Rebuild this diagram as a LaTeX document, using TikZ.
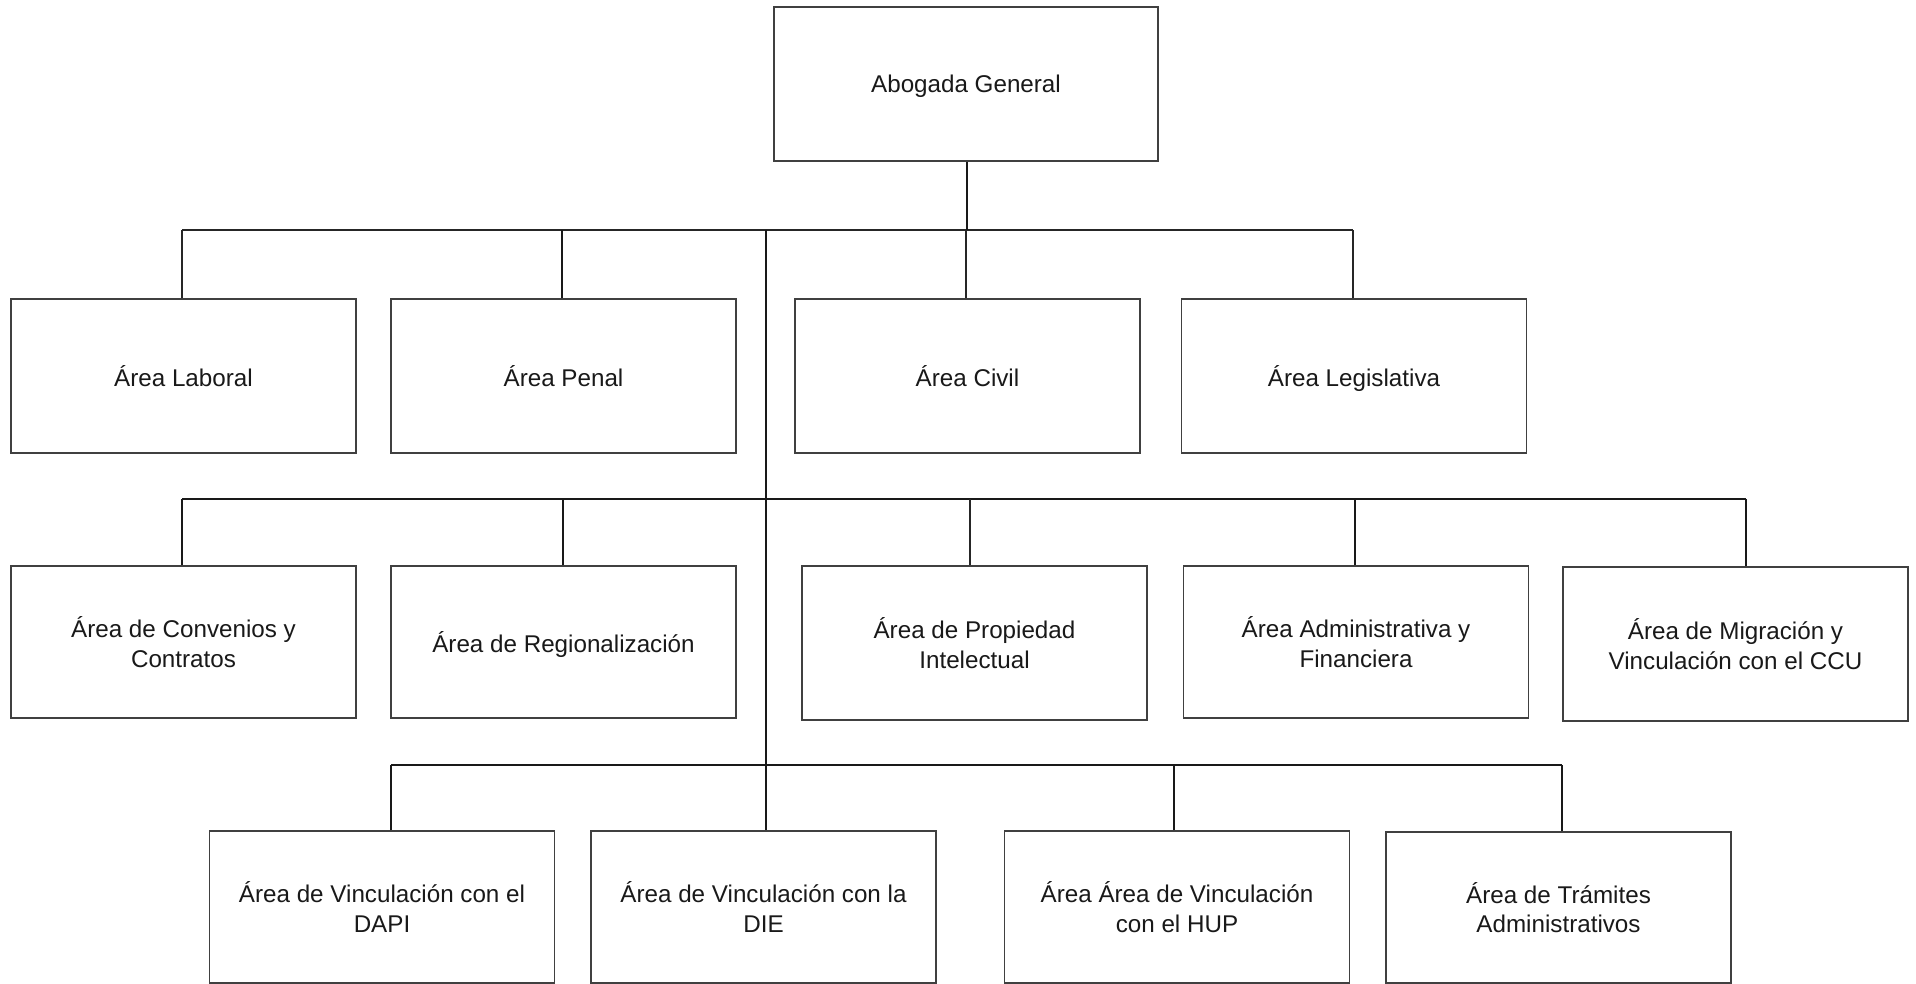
\documentclass[tikz,border=0pt]{standalone}
\usepackage{fontspec}
\setmainfont{Liberation Sans}
\begin{document}
\begin{tikzpicture}[x=1pt,y=-1pt,
  unit/.style={draw=boxgray,line width=1.4pt,fill=white,minimum width=345pt,minimum height=153pt,
    align=center,font=\fontsize{24.2}{29.3}\selectfont,text=black!90,inner sep=0pt},
  oneline/.style={text depth=0pt},
  thinlink/.style={line width=1.4pt,draw=black!85},
  link/.style={line width=2pt,draw=black!90},
  buslink/.style={line width=2.8pt,draw=black!90}]
\definecolor{boxgray}{HTML}{404040}
\useasboundingbox (0,0) rectangle (1916,984);

% director
\node[unit,oneline,minimum width=384pt,minimum height=154pt] (ag) at (966,84) {Abogada General};

% first row
\node[unit,oneline,minimum height=154pt] (lab) at (183.5,376) {Área Laboral};
\node[unit,oneline,minimum height=154pt] (pen) at (563.5,376) {Área Penal};
\node[unit,oneline,minimum height=154pt] (civ) at (967.5,376) {Área Civil};
\node[unit,oneline,minimum height=154pt] (leg) at (1354,376) {Área Legislativa};

% second row
\node[unit,minimum height=152pt] (con) at (183.5,642) {Área de Convenios y\\Contratos};
\node[unit,oneline,minimum height=152pt] (reg) at (563.5,642) {Área de Regionalización};
\node[unit,minimum height=154pt] (pro) at (974.5,643) {Área de Propiedad\\Intelectual};
\node[unit,minimum height=152pt] (adm) at (1356,642) {Área Administrativa y\\Financiera};
\node[unit,minimum height=154pt] (mig) at (1735.5,644) {Área de Migración y\\Vinculación con el CCU};

% third row
\node[unit,minimum height=152pt] (dap) at (382,907) {Área de Vinculación con el\\DAPI};
\node[unit,minimum height=152pt] (die) at (763.5,907) {Área de Vinculación con la\\DIE};
\node[unit,minimum height=152pt] (hup) at (1177,907) {Área Área de Vinculación\\con el HUP};
\node[unit,minimum height=151pt] (tra) at (1558.5,907.5) {Área de Trámites\\Administrativos};

% bus lines
\coordinate (b1l) at (182,230);
\coordinate (b1r) at (1353,230);
\coordinate (b2l) at (182,499);
\coordinate (b2r) at (1746,499);
\coordinate (b3l) at (391,765);
\coordinate (b3r) at (1562,765);
\coordinate (trunk) at (766,230);

\draw[thinlink] (b1l) -- (b1r);
\draw[buslink] (b2l) -- (b2r);
\draw[buslink] (b3l) -- (b3r);

% director to first bus, trunk down to the third row
\draw[link] ([xshift=1pt]ag.south) -- ([xshift=1pt]ag.south |- b1l);
\draw[link] (trunk) -- ([xshift=2.5pt]die.north);

% first row drops
\draw[thinlink] ([xshift=-1.5pt]lab.north) -- ([xshift=-1.5pt]lab.north |- b1l);
\draw[link] ([xshift=-1.5pt]pen.north) -- ([xshift=-1.5pt]pen.north |- b1l);
\draw[thinlink] ([xshift=-1.5pt]civ.north) -- ([xshift=-1.5pt]civ.north |- b1l);
\draw[thinlink] ([xshift=-1pt]leg.north) -- ([xshift=-1pt]leg.north |- b1l);

% second row drops
\draw[link] ([xshift=-1.5pt]con.north) -- ([xshift=-1.5pt]con.north |- b2l);
\draw[link] ([xshift=-0.5pt]reg.north) -- ([xshift=-0.5pt]reg.north |- b2l);
\draw[thinlink] ([xshift=-4.5pt]pro.north) -- ([xshift=-4.5pt]pro.north |- b2l);
\draw[link] ([xshift=-1pt]adm.north) -- ([xshift=-1pt]adm.north |- b2l);
\draw[link] ([xshift=10.5pt]mig.north) -- ([xshift=10.5pt]mig.north |- b2l);

% third row drops
\draw[link] ([xshift=9pt]dap.north) -- ([xshift=9pt]dap.north |- b3l);
\draw[link] ([xshift=-3pt]hup.north) -- ([xshift=-3pt]hup.north |- b3l);
\draw[link] ([xshift=3.5pt]tra.north) -- ([xshift=3.5pt]tra.north |- b3l);
\end{tikzpicture}
\end{document}
